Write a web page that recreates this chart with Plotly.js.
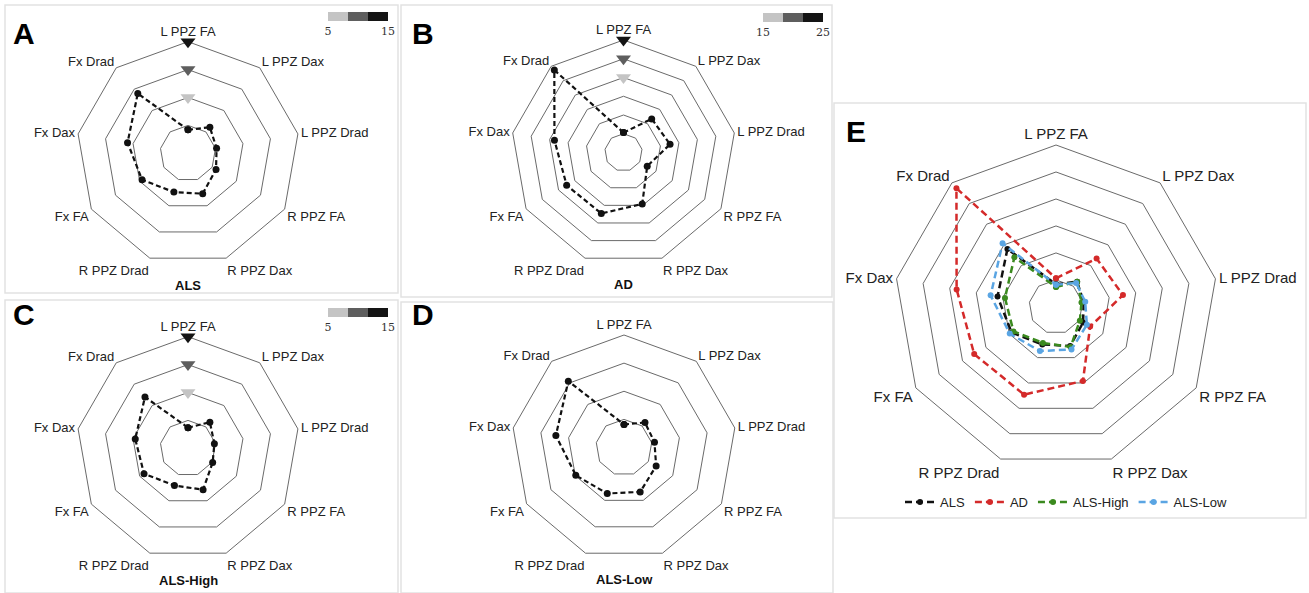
<!DOCTYPE html>
<html>
<head>
<meta charset="utf-8">
<script src="https://cdn.plot.ly/plotly-3.0.1.min.js"></script>
<style>html,body{margin:0;padding:0;background:#fff}#chart{width:1309px;height:593px}</style>
</head>
<body>
<div id="chart"></div>
<script>
// ---- data ----
const categories = ['L PPZ FA','L PPZ Dax','L PPZ Drad','R PPZ FA','R PPZ Dax','R PPZ Drad','Fx FA','Fx Dax','Fx Drad'];
const alsValues     = [-0.8, 1.1, 0.2, 0.8, 2.7, 2.4, 4.5, 6.0, 9.0];
const adValues      = [0.3, 6.7, 7.6, 2.3, 9.6, 12.3, 12.5, 13.7, 23.7];
const alsHighValues = [-1.3, 1.1, -0.2, 0.1, 2.9, 2.1, 4.1, 4.6, 7.0];
const alsLowValues  = [-0.9, 0.8, 0.5, 1.6, 3.4, 3.7, 4.9, 7.3, 10.4];
const thresholdsALS = [5, 10, 15];
const thresholdsAD  = [15, 20, 25];
const panelLetters  = ['A','B','C','D','E'];
const panelTitles   = ['ALS','AD','ALS-High','ALS-Low'];
const seriesNames   = ['ALS','AD','ALS-High','ALS-Low'];

// ---- helpers ----
const W = 1309, H = 593;
const px = x => x / W;
const py = y => 1 - y / H;
const close = a => a.concat([a[0]]);
const thetaC = close(categories);

const triScale = [[0,'#c4c4c4'],[1/3,'#c4c4c4'],[1/3,'#5e5e5e'],[2/3,'#5e5e5e'],[2/3,'#141414'],[1,'#141414']];

function dataTrace(sub, vals, name, color, dash, width, msize, legend) {
  return {
    type: 'scatterpolar', subplot: sub, r: close(vals), theta: thetaC,
    mode: 'lines+markers', name: name, showlegend: !!legend, cliponaxis: true,
    line: {color: color, dash: dash, width: width},
    marker: {color: color, size: msize, symbol: 'circle'},
    hoverinfo: 'skip'
  };
}
function triTrace(sub, th, cbx, cby) {
  return {
    type: 'scatterpolar', subplot: sub, r: th, theta: th.map(() => categories[0]),
    mode: 'markers', showlegend: false, cliponaxis: false, hoverinfo: 'skip',
    marker: {
      symbol: 'triangle-down', size: 13, color: th, colorscale: triScale,
      cmin: th[0], cmax: th[2], showscale: true, line: {width: 0},
      colorbar: {
        orientation: 'h', x: px(cbx), xanchor: 'left', y: py(cby), yanchor: 'top',
        len: 60, lenmode: 'pixels', thickness: 9, thicknessmode: 'pixels',
        xpad: 0, ypad: 0, outlinewidth: 0, ticks: '', tickvals: [th[0], th[2]],
        tickfont: {family: 'DejaVu Serif, Liberation Serif, serif', size: 11, color: '#333'}
      }
    }
  };
}

const traces = [
  dataTrace('polar',  alsValues,     'ALS',      '#111', '5px,3px', 2.2, 7, false),
  dataTrace('polar2', adValues,      'AD',       '#111', '5px,3px', 2.2, 7, false),
  dataTrace('polar3', alsHighValues, 'ALS-High', '#111', '5px,3px', 2.2, 7, false),
  dataTrace('polar4', alsLowValues,  'ALS-Low',  '#111', '5px,3px', 2.2, 7, false),
  dataTrace('polar5', alsValues,     seriesNames[0], '#111111', '7px,4px', 2.5, 6, true),
  dataTrace('polar5', adValues,      seriesNames[1], '#d42a2a', '7px,4px', 2.5, 6, true),
  dataTrace('polar5', alsHighValues, seriesNames[2], '#3b8a1f', '7px,4px', 2.5, 6, true),
  dataTrace('polar5', alsLowValues,  seriesNames[3], '#5aa5e3', '7px,4px', 2.5, 6, true),
  triTrace('polar6', thresholdsALS, 328, 12),
  triTrace('polar7', thresholdsAD,  763, 13),
  triTrace('polar8', thresholdsALS, 328, 308)
];

function polarLayout(cx, cy, R, rmax, fs, overlay) {
  const ticks = [];
  for (let v = 0; v <= rmax; v += 5) ticks.push(v);
  return {
    domain: {x: [px(cx - R), px(cx + R)], y: [py(cy + R), py(cy - R)]},
    gridshape: 'linear', bgcolor: 'rgba(0,0,0,0)',
    radialaxis: {range: [-5, rmax], tickvals: ticks, showticklabels: false, ticks: '',
                 showline: false, showgrid: !overlay, gridcolor: '#6a6a6a', gridwidth: 1},
    angularaxis: {type: 'category', categoryarray: categories, direction: 'clockwise', rotation: 90,
                  showgrid: false, ticks: '', showline: !overlay, showticklabels: !overlay,
                  linecolor: '#6a6a6a', linewidth: 1,
                  tickfont: {family: 'Liberation Sans, Arial, sans-serif', size: fs, color: '#222'}}
  };
}

const boxes = [[5,5,398,293],[401,5,832,297],[5,300,398,593],[401,302,833,593],[834,103,1306,518]];
const shapes = boxes.map(b => ({type: 'rect', xref: 'paper', yref: 'paper',
  x0: px(b[0]), x1: px(b[2]), y0: py(b[3]), y1: py(b[1]), line: {color: '#e2e2e2', width: 1.5}}));

const letterPos = [[24,33],[423,33],[24,314],[423,314],[856,131]];
const titlePos = [[188,285],[623,284],[188,580],[624,579]];
const annotations = [];
letterPos.forEach((p, i) => annotations.push({xref: 'paper', yref: 'paper', x: px(p[0]), y: py(p[1]),
  xanchor: 'center', yanchor: 'middle', showarrow: false, text: '<b>' + panelLetters[i] + '</b>',
  font: {family: 'Liberation Sans, Arial, sans-serif', size: 30, color: '#000'}}));
titlePos.forEach((p, i) => annotations.push({xref: 'paper', yref: 'paper', x: px(p[0]), y: py(p[1]),
  xanchor: 'center', yanchor: 'middle', showarrow: false, text: '<b>' + panelTitles[i] + '</b>',
  font: {family: 'Liberation Sans, Arial, sans-serif', size: 13, color: '#111'}}));

const layout = {
  width: W, height: H, margin: {l: 0, r: 0, t: 0, b: 0},
  paper_bgcolor: '#fff', plot_bgcolor: '#fff',
  font: {family: 'Liberation Sans, Arial, sans-serif', color: '#222'},
  polar:  polarLayout(188, 153.3, 111.6, 15, 13),
  polar2: polarLayout(623.5, 152.5, 112.5, 25, 13),
  polar3: polarLayout(188, 448.3, 111.6, 15, 13),
  polar4: polarLayout(624, 447.5, 112.5, 15, 13),
  polar5: polarLayout(1056, 306.9, 161.9, 25, 15),
  polar6: polarLayout(188, 153.3, 111.6, 15, 13, true),
  polar7: polarLayout(623.5, 152.5, 112.5, 25, 13, true),
  polar8: polarLayout(188, 448.3, 111.6, 15, 13, true),
  showlegend: true,
  legend: {orientation: 'h', x: px(1066), xanchor: 'center', y: py(502), yanchor: 'middle',
           font: {size: 13, color: '#222'}, bgcolor: 'rgba(0,0,0,0)', itemwidth: 30, tracegroupgap: 0},
  shapes: shapes, annotations: annotations
};

Plotly.newPlot('chart', traces, layout, {staticPlot: true, displayModeBar: false});
</script>
</body>
</html>
